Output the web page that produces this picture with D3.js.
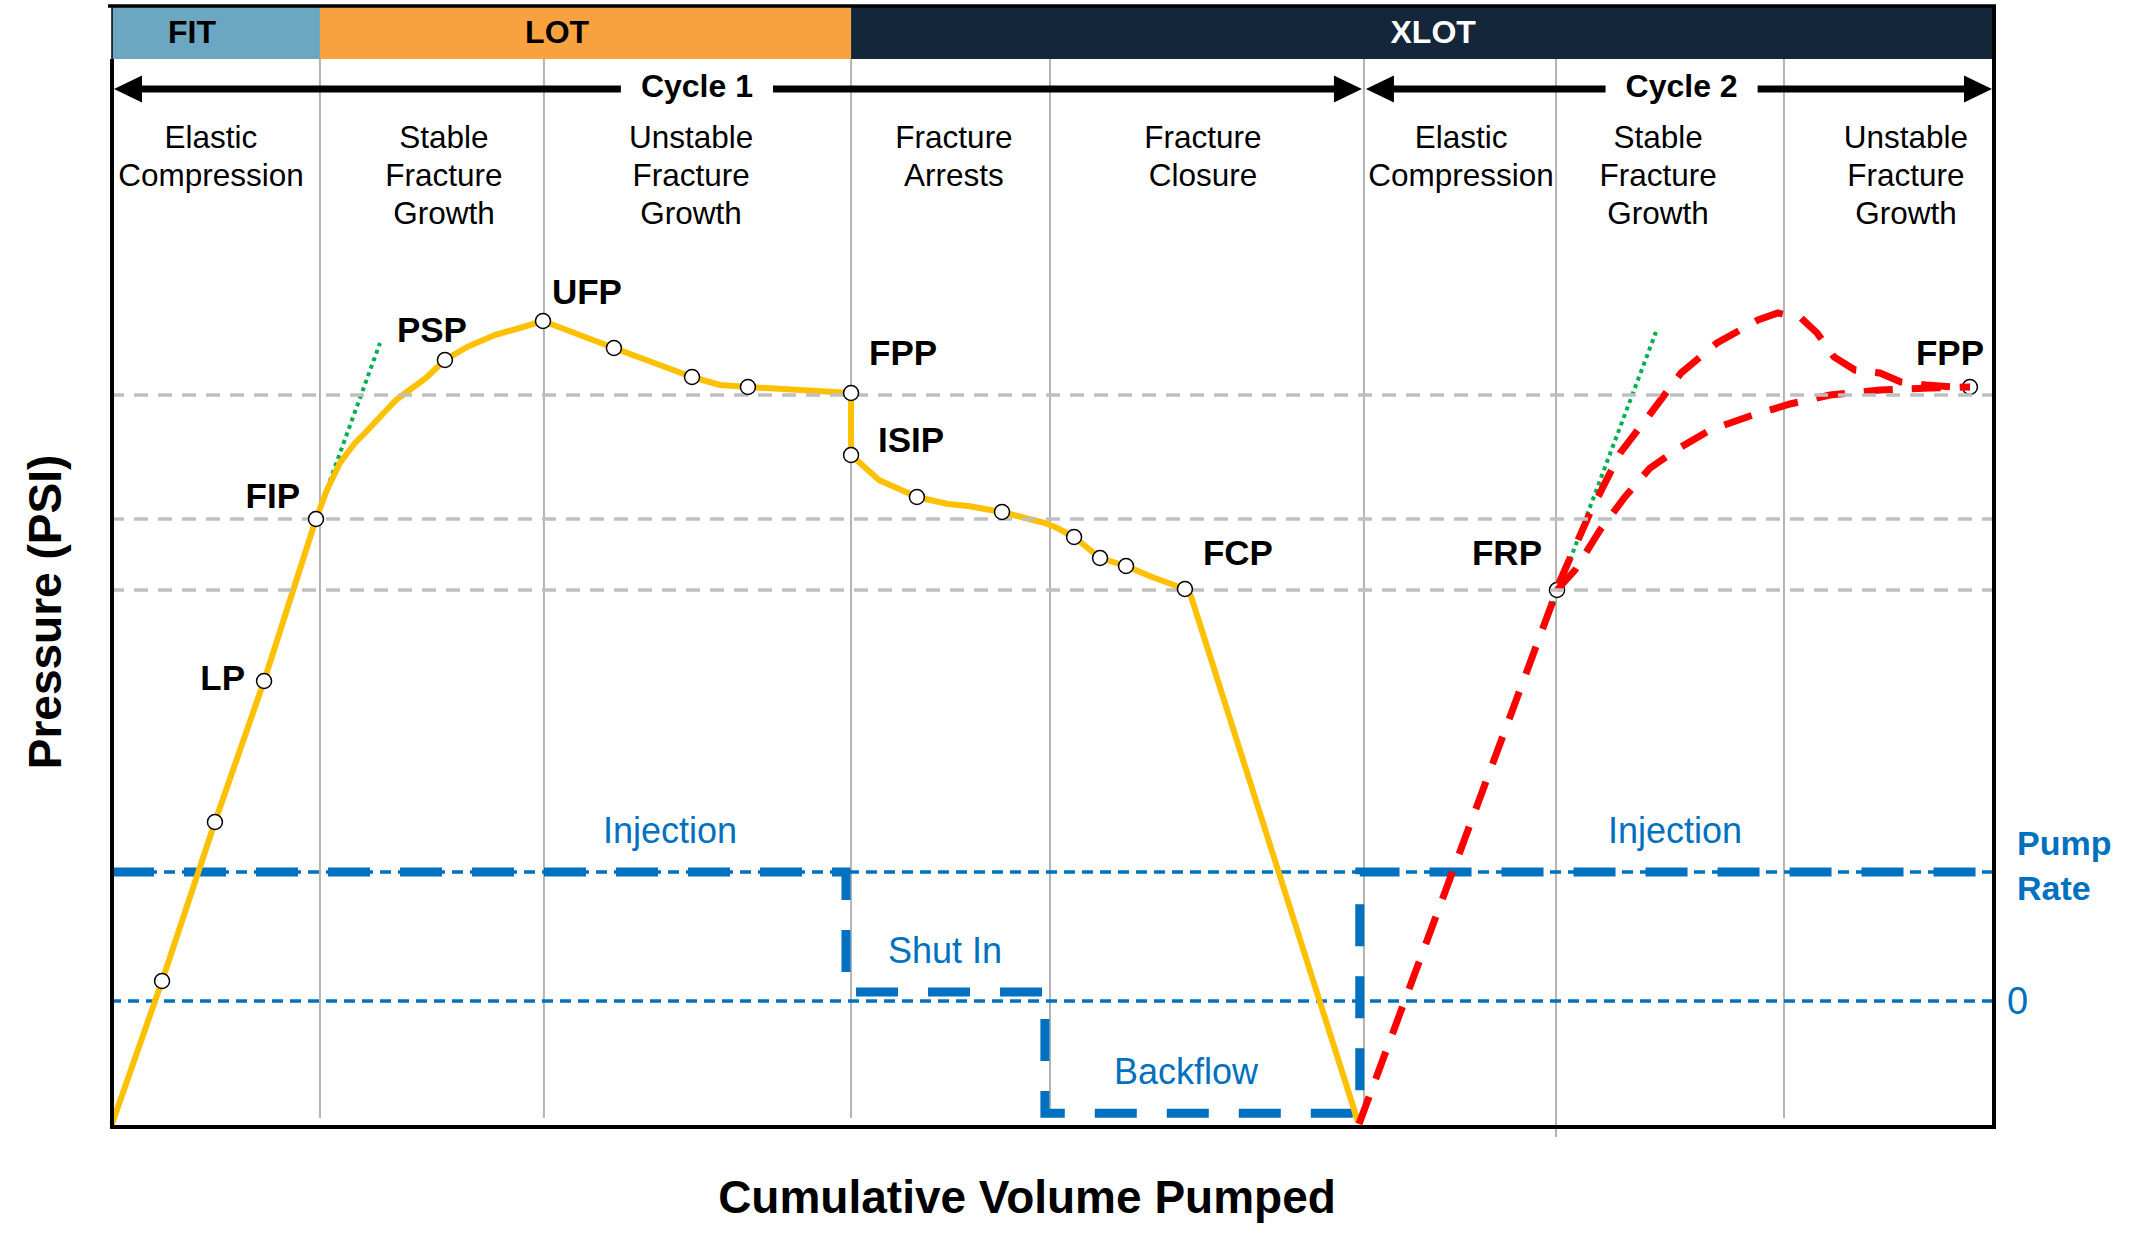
<!DOCTYPE html>
<html lang="en">
    <head>
        <meta charset="utf-8">
        <title>LOT / XLOT pressure schematic</title>
        <script src="https://cdnjs.cloudflare.com/ajax/libs/d3/7.8.5/d3.min.js"></script>
        <style type="text/css">
            body { margin: 0; background: #fff; }
            text { font-family: "Liberation Sans", Arial, sans-serif; }
            text.head { font-size: 32px; font-weight: bold; }
            text.cycle { font-size: 32px; font-weight: bold; }
            text.phase { font-size: 31.5px; fill: #000; }
            text.point { font-size: 35px; font-weight: bold; }
            text.pump { font-size: 36px; fill: #0070c0; }
            text.pumpTitle { font-size: 34px; font-weight: bold; fill: #0070c0; }
            text.axisTitle { font-size: 46px; font-weight: bold; }
        </style>
    </head>
    <body>
        <script type="text/javascript">

          // test types across the top band (volume units 0 - 100)
          const testNames = ["FIT", "LOT", "XLOT"];
          const testStart = [0, 11.05, 39.27];
          const testEnd = [11.05, 39.27, 100];
          const testLabelX = [4.25, 23.65, 70.2];

          // phases of the test
          const phaseBounds = [11.05, 22.95, 39.27, 49.84, 66.52, 76.73, 88.84];
          const phaseNames = [
            ["Elastic", "Compression"], ["Stable", "Fracture", "Growth"], ["Unstable", "Fracture", "Growth"],
            ["Fracture", "Arrests"], ["Fracture", "Closure"], ["Elastic", "Compression"],
            ["Stable", "Fracture", "Growth"], ["Unstable", "Fracture", "Growth"]
          ];
          const phaseLabelX = [5.26, 17.64, 30.77, 44.74, 57.97, 71.68, 82.15, 95.32];

          // cycles
          const cycleNames = ["Cycle 1", "Cycle 2"];
          const cycleStart = [0, 66.52];
          const cycleEnd = [66.52, 100];
          const cycleLabelX = [31.08, 83.4];

          // cycle 1 pressure (volume, pressure)
          const vol1 = [0, 2.66, 5.47, 8.08, 10.84, 11.42, 12.11, 12.91, 13.44, 15.09, 16.68, 17.69, 18.86, 20.35, 21.84, 22.90,
                        26.67, 30.82, 32.31, 33.79, 39.27, 39.27, 40.75, 42.77, 44.42, 45.48, 47.29, 49.57, 50.11,
                        51.12, 52.50, 53.88, 55.26, 57.01, 57.33, 66.21];
          const pres1 = [0, 14.3, 30.2, 44.3, 60.5, 63.4, 66.1, 68.1, 69.1, 72.4, 74.6, 76.4, 77.7, 78.9, 79.7, 80.3,
                         77.6, 74.7, 73.9, 73.7, 73.1, 66.9, 64.4, 62.7, 62.0, 61.8, 61.2, 60.1, 59.7,
                         58.7, 56.6, 55.8, 54.7, 53.5, 52.8, 0.2];

          // cycle 2 pressure: rise to FRP, then two possible paths to FPP
          const vol2Rise = [66.26, 76.78];
          const pres2Rise = [0, 53.4];
          const vol2Upper = [76.78, 76.89, 78.53, 80.13, 81.77, 83.37, 85.28, 87.46, 88.52, 89.75, 90.60, 91.50, 92.61, 93.94, 95.06, 96.39, 97.87, 98.72];
          const pres2Upper = [53.4, 54.1, 61.1, 67.1, 71.1, 75.1, 78.1, 80.4, 81.1, 80.6, 79.1, 76.7, 75.4, 75.1, 74.2, 73.9, 73.7, 73.7];
          const vol2Lower = [76.78, 77.74, 79.07, 80.39, 81.72, 83.10, 84.91, 87.04, 89.16, 91.29, 93.94, 96.60, 98.72];
          const pres2Lower = [53.4, 55.4, 59.4, 62.7, 65.6, 67.4, 69.4, 70.8, 72.0, 72.9, 73.4, 73.6, 73.7];

          // marked points
          const markVol1 = [2.66, 5.47, 8.08, 10.84, 17.69, 22.90, 26.67, 30.82, 33.79, 39.27, 39.27, 42.77, 47.29, 51.12, 52.50, 53.88, 57.01];
          const markPres1 = [14.3, 30.2, 44.3, 60.5, 76.4, 80.3, 77.6, 74.7, 73.7, 73.1, 66.9, 62.7, 61.2, 58.7, 56.6, 55.8, 53.5];
          const markName1 = ["", "", "LP", "FIP", "PSP", "UFP", "", "", "", "FPP", "ISIP", "", "", "", "", "", "FCP"];
          const markVol2 = [76.78, 98.72];
          const markPres2 = [53.4, 73.7];
          const markName2 = ["FRP", "FPP"];

          // tangent (linear elastic) lines
          const tanVol1 = [10.84, 14.24];
          const tanPres1 = [60.5, 78.1];
          const tanVol2 = [76.57, 82.04];
          const tanPres2 = [51.9, 79.2];

          // reference pressure levels (FPP, FIP, FCP/FRP)
          const refLevels = [72.9, 60.5, 53.4];

          // pump rate schedule
          const pumpVol = [0, 39.0, 39.0, 49.57, 49.57, 66.3, 66.3, 100];
          const pumpRate = [1, 1, 0.07, 0.07, -0.87, -0.87, 1, 1];
          const pumpLevels = [1, 0];
          const pumpTicks = [0];
          const pumpLabelText = ["Injection", "Shut In", "Backflow", "Injection"];
          const pumpLabelVol = [29.65, 44.26, 57.07, 83.05];
          const pumpLabelRate = [1, 0.07, -0.87, 1];

          // label placement around the marked points: [anchor, dx, dy]
          const labelLayout = {
            "1-LP": ["end", -19, 9], "1-FIP": ["end", -16, -11], "1-PSP": ["start", -48, -18],
            "1-UFP": ["start", 9, -17], "1-FPP": ["start", 18, -28], "1-ISIP": ["start", 27, -3],
            "1-FCP": ["start", 18, -24], "2-FRP": ["end", -15, -25], "2-FPP": ["start", -54, -22]
          };

          const width = 2149, height = 1250;
          const plotLeft = 112, plotRight = 1994, plotTop = 7, headBottom = 59, plotBottom = 1127;

          const svg = d3.select("body").append("svg")
                        .attr("width", width)
                        .attr("height", height);

          const x = d3.scaleLinear().domain([0, 100]).range([plotLeft, plotRight]);
          const y = d3.scaleLinear().domain([0, 100]).range([1124, 124]);
          const yPump = d3.scaleLinear().domain([-1, 1]).range([1130, 872]);

          const line = d3.line().x(d => x(d[0])).y(d => y(d[1]));

          // header band
          const headColors = ["#6ba7c1", "#f8a13f", "#13263a"];
          const headText = ["#000", "#000", "#fff"];
          testNames.forEach(function(name, i) {
            svg.append("rect")
               .attr("x", x(testStart[i])).attr("y", plotTop)
               .attr("width", x(testEnd[i]) - x(testStart[i])).attr("height", headBottom - plotTop)
               .attr("fill", headColors[i]);
            svg.append("text").attr("class", "head")
               .attr("x", x(testLabelX[i])).attr("y", 43)
               .attr("text-anchor", "middle").attr("fill", headText[i])
               .text(name);
          });

          // phase separators
          svg.selectAll("line.phase")
             .data(phaseBounds)
             .enter().append("line")
             .attr("class", "phase")
             .attr("x1", d => x(d)).attr("x2", d => x(d))
             .attr("y1", headBottom)
             .attr("y2", (d, i) => i == 5 ? 1137 : 1118)
             .attr("stroke", "#b3b3b3").attr("stroke-width", 2);

          // phase names
          phaseNames.forEach(function(lines, i) {
            const t = svg.append("text").attr("class", "phase")
                         .attr("text-anchor", "middle");
            lines.forEach(function(s, j) {
              t.append("tspan").attr("x", x(phaseLabelX[i])).attr("y", 148 + j * 38).text(s);
            });
          });

          // cycle arrows
          const arrowY = 89, headLen = 28, headHalf = 13.5;
          cycleNames.forEach(function(name, i) {
            const x0 = x(cycleStart[i]) + 2, x1 = x(cycleEnd[i]) - 2, xc = x(cycleLabelX[i]);
            const t = svg.append("text").attr("class", "cycle")
                         .attr("x", xc).attr("y", arrowY + 8)
                         .attr("text-anchor", "middle").text(name);
            const w = t.node().getComputedTextLength();
            const segs = [[x0 + headLen - 2, xc - w / 2 - 20], [xc + w / 2 + 20, x1 - headLen + 2]];
            segs.forEach(function(s) {
              svg.append("line").attr("x1", s[0]).attr("x2", s[1])
                 .attr("y1", arrowY).attr("y2", arrowY)
                 .attr("stroke", "#000").attr("stroke-width", 7);
            });
            svg.append("path")
               .attr("d", "M" + x0 + "," + arrowY + "L" + (x0 + headLen) + "," + (arrowY - headHalf) + "L" + (x0 + headLen) + "," + (arrowY + headHalf) + "Z")
               .attr("fill", "#000");
            svg.append("path")
               .attr("d", "M" + x1 + "," + arrowY + "L" + (x1 - headLen) + "," + (arrowY - headHalf) + "L" + (x1 - headLen) + "," + (arrowY + headHalf) + "Z")
               .attr("fill", "#000");
          });

          // pump rate reference lines (thin dotted)
          svg.selectAll("line.pumpRef")
             .data(pumpLevels)
             .enter().append("line")
             .attr("class", "pumpRef")
             .attr("x1", plotLeft - 2).attr("x2", plotRight)
             .attr("y1", d => yPump(d)).attr("y2", d => yPump(d))
             .attr("stroke", "#0070c0").attr("stroke-width", 3.5)
             .attr("stroke-dasharray", "11,7");

          // pump rate schedule (thick dashed)
          svg.append("path")
             .datum(d3.zip(pumpVol, pumpRate))
             .attr("d", d3.line().x(d => x(d[0])).y(d => yPump(d[1])))
             .attr("fill", "none")
             .attr("stroke", "#0070c0").attr("stroke-width", 9)
             .attr("stroke-dasharray", "42,30");

          pumpLabelText.forEach(function(s, i) {
            svg.append("text").attr("class", "pump")
               .attr("x", x(pumpLabelVol[i])).attr("y", yPump(pumpLabelRate[i]) - 29)
               .attr("text-anchor", "middle").text(s);
          });

          // tangent lines
          [[tanVol1, tanPres1], [tanVol2, tanPres2]].forEach(function(p) {
            svg.append("path")
               .datum(d3.zip(p[0], p[1]))
               .attr("d", line)
               .attr("fill", "none")
               .attr("stroke", "#00b050").attr("stroke-width", 4)
               .attr("stroke-dasharray", "4,4");
          });

          // cycle 1 pressure
          svg.append("path")
             .datum(d3.zip(vol1, pres1))
             .attr("d", line)
             .attr("fill", "none")
             .attr("stroke", "#ffc000").attr("stroke-width", 6)
             .attr("stroke-linejoin", "round");

          // cycle 2 markers sit under the red dashes
          drawMarks(markVol2, markPres2, markName2, "2");

          // cycle 2 pressure
          [[vol2Rise.concat(vol2Upper.slice(1)), pres2Rise.concat(pres2Upper.slice(1))], [vol2Lower, pres2Lower]].forEach(function(p) {
            svg.append("path")
               .datum(d3.zip(p[0], p[1]))
               .attr("d", line)
               .attr("fill", "none")
               .attr("stroke", "#ff0000").attr("stroke-width", 7)
               .attr("stroke-dasharray", "29,19");
          });

          // reference pressure levels
          svg.selectAll("line.ref")
             .data(refLevels)
             .enter().append("line")
             .attr("class", "ref")
             .attr("x1", plotLeft - 2).attr("x2", plotRight)
             .attr("y1", d => y(d)).attr("y2", d => y(d))
             .attr("stroke", "#bfbfbf").attr("stroke-width", 3.5)
             .attr("stroke-dasharray", "14,10");

          drawMarks(markVol1, markPres1, markName1, "1");

          function drawMarks(vols, pres, names, cycle) {
            vols.forEach(function(v, i) {
              const cx = x(v), cy = y(pres[i]);
              svg.append("circle")
                 .attr("cx", cx).attr("cy", cy).attr("r", 7.5)
                 .attr("fill", "#fff").attr("stroke", "#000").attr("stroke-width", 1.5);
              if (names[i] != "") {
                const lay = labelLayout[cycle + "-" + names[i]];
                svg.append("text").attr("class", "point")
                   .attr("x", cx + lay[1]).attr("y", cy + lay[2])
                   .attr("text-anchor", lay[0])
                   .text(names[i]);
              }
            });
          }

          // frame
          svg.append("line").attr("x1", plotLeft - 4).attr("x2", plotRight + 2).attr("y1", plotTop - 1).attr("y2", plotTop - 1)
             .attr("stroke", "#000").attr("stroke-width", 3.5);
          svg.append("line").attr("x1", plotLeft).attr("x2", plotLeft).attr("y1", plotTop).attr("y2", headBottom)
             .attr("stroke", "#000").attr("stroke-width", 1.5);
          svg.append("line").attr("x1", plotLeft).attr("x2", plotLeft).attr("y1", headBottom).attr("y2", plotBottom + 2)
             .attr("stroke", "#000").attr("stroke-width", 4);
          svg.append("line").attr("x1", plotRight).attr("x2", plotRight).attr("y1", plotTop - 2).attr("y2", plotBottom + 2)
             .attr("stroke", "#000").attr("stroke-width", 4);
          svg.append("line").attr("x1", plotLeft - 2).attr("x2", plotRight + 2).attr("y1", plotBottom).attr("y2", plotBottom)
             .attr("stroke", "#000").attr("stroke-width", 4);

          // pump rate axis on the right
          const pumpAxis = d3.axisRight(yPump)
                             .tickValues(pumpTicks)
                             .tickFormat(d3.format("d"))
                             .tickSize(0).tickPadding(13);
          const pa = svg.append("g")
                        .attr("transform", "translate(" + plotRight + ",0)")
                        .call(pumpAxis);
          pa.select(".domain").remove();
          pa.selectAll("text")
            .attr("font-family", "'Liberation Sans', Arial, sans-serif")
            .attr("font-size", 38).attr("fill", "#0070c0");

          svg.append("text").attr("class", "pumpTitle")
             .attr("x", 2017).attr("y", 855).text("Pump");
          svg.append("text").attr("class", "pumpTitle")
             .attr("x", 2017).attr("y", 900).text("Rate");

          // axis titles
          svg.append("text").attr("class", "axisTitle")
             .attr("x", 1027).attr("y", 1213)
             .attr("text-anchor", "middle")
             .text("Cumulative Volume Pumped");

          svg.append("text").attr("class", "axisTitle")
             .attr("transform", "translate(61,612) rotate(-90)")
             .attr("text-anchor", "middle")
             .text("Pressure (PSI)");

        </script>
    </body>
</html>
